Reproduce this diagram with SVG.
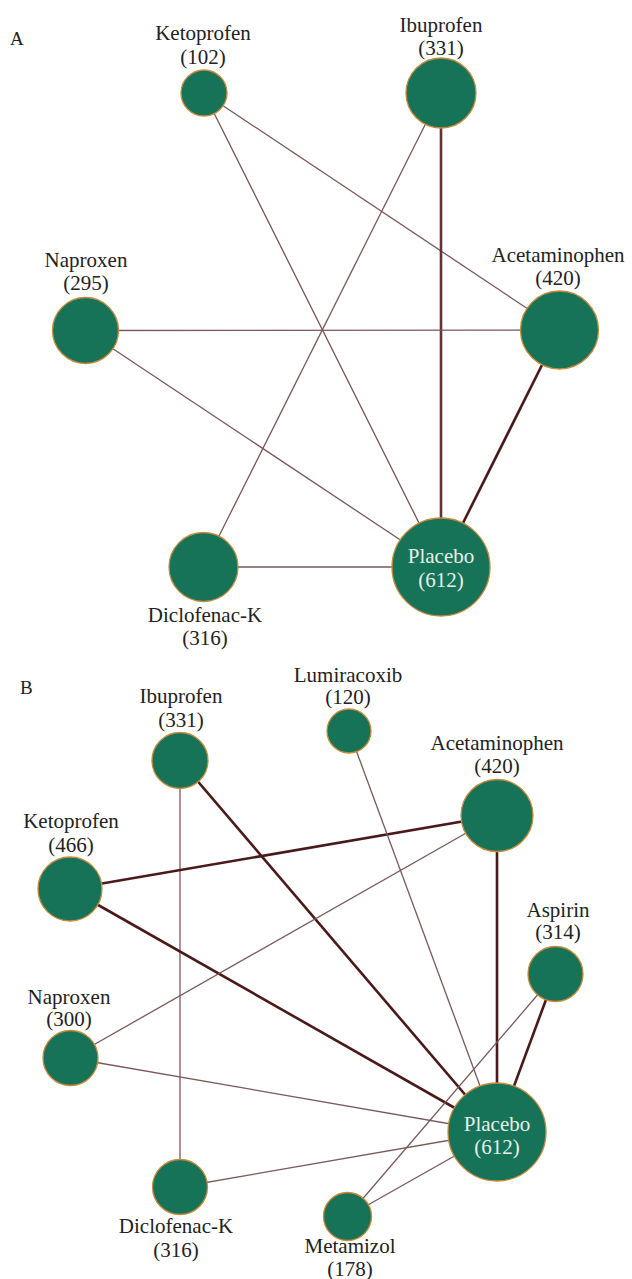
<svg xmlns="http://www.w3.org/2000/svg" width="632" height="1279" viewBox="0 0 632 1279">
<style>
.bg{fill:#ffffff}
.n{fill:#167358;stroke:#c98a3c;stroke-width:1.3}
.t{font-family:'Liberation Serif','Times New Roman','DejaVu Serif',serif;font-size:21px;fill:#222222;text-anchor:middle}
.tw{font-family:'Liberation Serif','Times New Roman','DejaVu Serif',serif;font-size:21px;fill:#e6efe9;text-anchor:middle}
.p{font-family:'Liberation Serif','Times New Roman','DejaVu Serif',serif;font-size:19px;fill:#222222}
.e1{stroke:#7a5858;stroke-width:1.3;fill:none}
.e2{stroke:#5e3434;stroke-width:2.6;fill:none}
.e3{stroke:#4a1a1a;stroke-width:2.6;fill:none}
</style>
<rect class="bg" x="0" y="0" width="632" height="1279"/>
<text class="p" x="10" y="45">A</text>
<text class="p" x="20" y="694">B</text>
<g id="edges">
<line class="e1" x1="204" y1="93" x2="441" y2="567"/>
<line class="e1" x1="204" y1="93" x2="559.5" y2="330"/>
<line class="e2" x1="441" y1="93" x2="441" y2="567"/>
<line class="e1" x1="441" y1="93" x2="203.5" y2="567"/>
<line class="e1" x1="85.5" y1="330.5" x2="559.5" y2="330"/>
<line class="e1" x1="85.5" y1="330.5" x2="441" y2="567"/>
<line class="e3" x1="559.5" y1="330" x2="441" y2="567"/>
<line class="e1" x1="203.5" y1="567" x2="441" y2="567"/>
<line class="e3" x1="180" y1="760.5" x2="497" y2="1132"/>
<line class="e1" x1="180" y1="760.5" x2="180" y2="1187"/>
<line class="e3" x1="70" y1="889" x2="497" y2="815.5"/>
<line class="e3" x1="70" y1="889" x2="497" y2="1132"/>
<line class="e1" x1="349" y1="731" x2="497" y2="1132"/>
<line class="e1" x1="497" y1="815.5" x2="70.5" y2="1058"/>
<line class="e3" x1="497" y1="815.5" x2="497" y2="1132"/>
<line class="e3" x1="555.5" y1="974" x2="497" y2="1132"/>
<line class="e1" x1="555.5" y1="974" x2="347.5" y2="1216.5"/>
<line class="e1" x1="70.5" y1="1058" x2="497" y2="1132"/>
<line class="e1" x1="180" y1="1187" x2="497" y2="1132"/>
<line class="e1" x1="347.5" y1="1216.5" x2="497" y2="1132"/>
</g>
<g id="A-ketoprofen"><circle class="n" cx="204" cy="93" r="23"/><text class="t" x="203" y="40">Ketoprofen</text><text class="t" x="203" y="64">(102)</text></g>
<g id="A-ibuprofen"><circle class="n" cx="441" cy="93" r="35"/><text class="t" x="441" y="32">Ibuprofen</text><text class="t" x="441" y="55">(331)</text></g>
<g id="A-naproxen"><circle class="n" cx="85.5" cy="330.5" r="33"/><text class="t" x="86" y="267">Naproxen</text><text class="t" x="86" y="290">(295)</text></g>
<g id="A-acetaminophen"><circle class="n" cx="559.5" cy="330" r="39"/><text class="t" x="558" y="262">Acetaminophen</text><text class="t" x="558" y="285">(420)</text></g>
<g id="A-diclofenac"><circle class="n" cx="203.5" cy="567" r="34.5"/><text class="t" x="205" y="622">Diclofenac-K</text><text class="t" x="205" y="645">(316)</text></g>
<g id="A-placebo"><circle class="n" cx="441" cy="567" r="49"/><text class="tw" x="441" y="563">Placebo</text><text class="tw" x="441" y="587">(612)</text></g>
<g id="B-ibuprofen"><circle class="n" cx="180" cy="760.5" r="28"/><text class="t" x="181" y="703">Ibuprofen</text><text class="t" x="181" y="727">(331)</text></g>
<g id="B-ketoprofen"><circle class="n" cx="70" cy="889" r="32"/><text class="t" x="71" y="828">Ketoprofen</text><text class="t" x="71" y="852">(466)</text></g>
<g id="B-lumiracoxib"><circle class="n" cx="349" cy="731" r="22"/><text class="t" x="348" y="682">Lumiracoxib</text><text class="t" x="348" y="704">(120)</text></g>
<g id="B-acetaminophen"><circle class="n" cx="497" cy="815.5" r="36"/><text class="t" x="497" y="750">Acetaminophen</text><text class="t" x="497" y="773">(420)</text></g>
<g id="B-aspirin"><circle class="n" cx="555.5" cy="974" r="27.5"/><text class="t" x="558" y="917">Aspirin</text><text class="t" x="558" y="939">(314)</text></g>
<g id="B-naproxen"><circle class="n" cx="70.5" cy="1058" r="27.5"/><text class="t" x="69" y="1004">Naproxen</text><text class="t" x="69" y="1026">(300)</text></g>
<g id="B-diclofenac"><circle class="n" cx="180" cy="1187" r="27.5"/><text class="t" x="176" y="1233">Diclofenac-K</text><text class="t" x="176" y="1257">(316)</text></g>
<g id="B-placebo"><circle class="n" cx="497" cy="1132" r="49"/><text class="tw" x="497" y="1131">Placebo</text><text class="tw" x="497" y="1154">(612)</text></g>
<g id="B-metamizol"><circle class="n" cx="347.5" cy="1216.5" r="24"/><text class="t" x="350" y="1253">Metamizol</text><text class="t" x="350" y="1276">(178)</text></g>
</svg>
